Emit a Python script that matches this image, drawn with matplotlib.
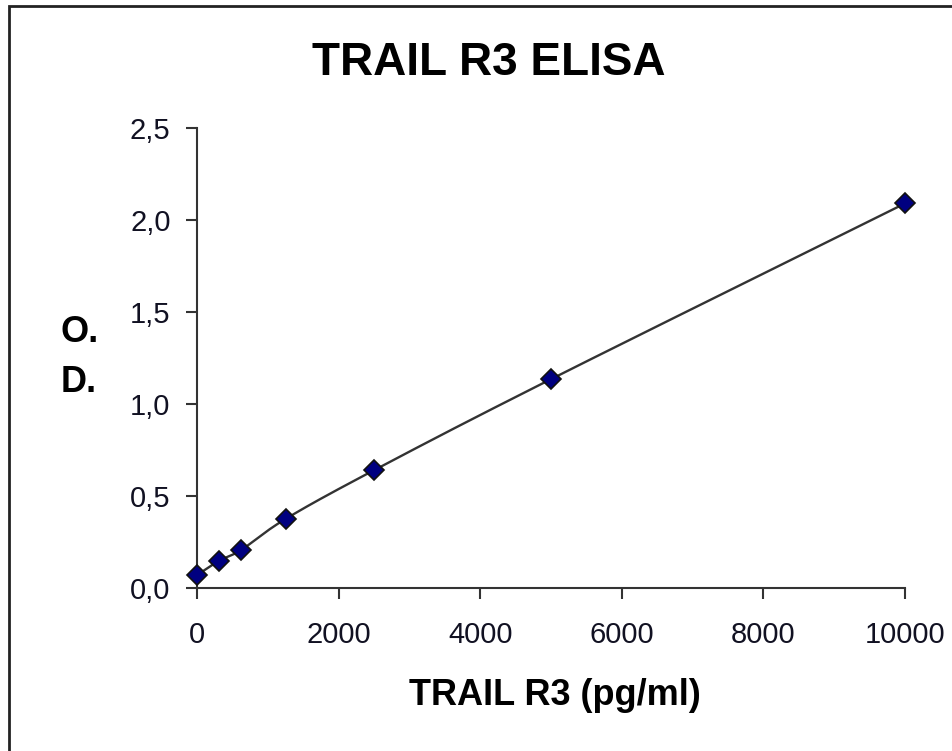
import numpy as np
import matplotlib.pyplot as plt
from matplotlib.patches import Rectangle
from matplotlib.ticker import FuncFormatter

conc = [0, 312.5, 625, 1250, 2500, 5000, 10000]
od = [0.07, 0.148, 0.207, 0.375, 0.64, 1.135, 2.09]
xticks = [0, 2000, 4000, 6000, 8000, 10000]
yticks = [0.0, 0.5, 1.0, 1.5, 2.0, 2.5]


def smooth(xs, ys, n=30):
    # Catmull-Rom through the points, roughly like a spreadsheet "smoothed line"
    p = np.column_stack([xs, ys]).astype(float)
    p = np.vstack([2 * p[0] - p[1], p, 2 * p[-1] - p[-2]])
    out = []
    t = np.linspace(0, 1, n)[:, None]
    for i in range(1, len(p) - 2):
        p0, p1, p2, p3 = p[i - 1], p[i], p[i + 1], p[i + 2]
        seg = 0.5 * ((2 * p1) + (-p0 + p2) * t + (2 * p0 - 5 * p1 + 4 * p2 - p3) * t**2
                     + (-p0 + 3 * p1 - 3 * p2 + p3) * t**3)
        out.append(seg)
    out = np.vstack(out)
    return out[:, 0], out[:, 1]


plt.rcParams['font.family'] = ['Liberation Sans', 'DejaVu Sans']

fig = plt.figure(figsize=(9.52, 7.51), dpi=100)
# outer chart frame, only its left and top edges fall inside the picture
fig.patches.append(Rectangle((9 / 952, -1), 2, 2 - 6 / 751, transform=fig.transFigure,
                             fill=False, ec='#222222', lw=2))

ax = fig.add_axes([197 / 952, 163 / 751, 708 / 952, 460 / 751])
sx, sy = smooth(conc, od)
ax.plot(sx, sy, color='#333333', lw=1.7, zorder=2)
ax.plot(conc, od, 'D', color='#000080', mec='#111111', mew=1.2, ms=10.5, zorder=3,
        clip_on=False)

ax.set_xlim(0, 10000)
ax.set_ylim(0, 2.5)
ax.set_xticks(xticks)
ax.set_yticks(yticks)
ax.yaxis.set_major_formatter(FuncFormatter(lambda v, _: f"{v:.1f}".replace('.', ',')))
for s in ['top', 'right']:
    ax.spines[s].set_visible(False)
for s in ['left', 'bottom']:
    ax.spines[s].set_color('#333333')
    ax.spines[s].set_linewidth(1.5)
ax.tick_params(axis='both', direction='out', length=8, width=1.5, color='#333333',
               labelsize=21, labelcolor='#111122')
ax.tick_params(axis='y', pad=11)
ax.tick_params(axis='x', pad=16)

fig.text(489 / 952, 1 - 75 / 751, 'TRAIL R3 ELISA', ha='center', va='baseline',
         fontsize=33, fontweight='bold')
fig.text(555 / 952, 1 - 705 / 751, 'TRAIL R3 (pg/ml)', ha='center', va='baseline',
         fontsize=26, fontweight='bold')
fig.text(61 / 952, 1 - 342 / 751, 'O.', ha='left', va='baseline',
         fontsize=26, fontweight='bold')
fig.text(61 / 952, 1 - 392 / 751, 'D.', ha='left', va='baseline',
         fontsize=26, fontweight='bold')

fig.savefig('out.png', dpi=100)
